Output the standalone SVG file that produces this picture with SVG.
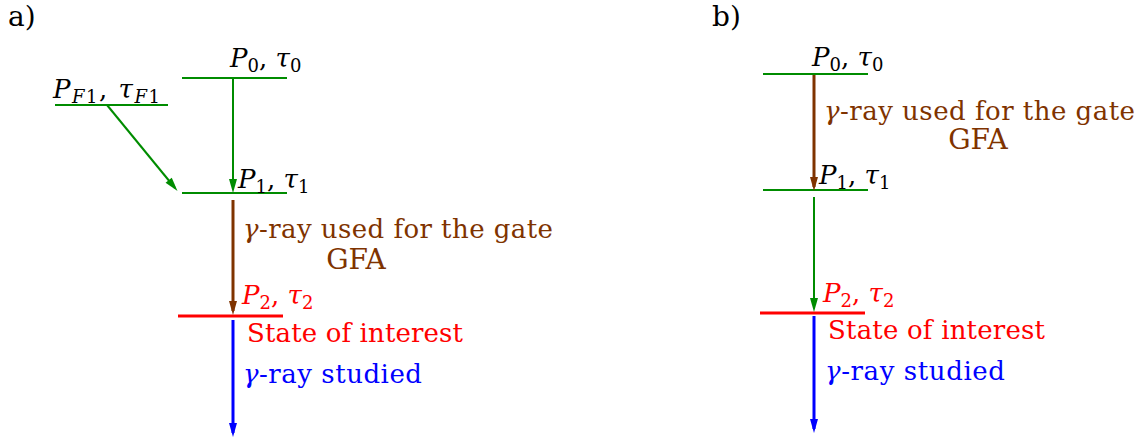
<svg xmlns="http://www.w3.org/2000/svg" width="1143" height="440" viewBox="0 0 1143 440">
<style>
text{font-family:"DejaVu Serif","Liberation Serif",serif;font-size:26px}
.it{font-style:italic}
.sub{font-size:18px}
.lab{font-size:28px}
.k{fill:#000}
.br{fill:#7f3300}
.rd{fill:#ff0000}
.bl{fill:#0000ff}
.lvg{stroke:#008c00;stroke-width:2.2;fill:none}
.lvr{stroke:#ff0000;stroke-width:3;fill:none}
.ag{stroke:#008c00;stroke-width:2;fill:none;marker-end:url(#mg)}
.ab{stroke:#7f3300;stroke-width:3;fill:none;marker-end:url(#mb)}
.au{stroke:#0000ff;stroke-width:3;fill:none;marker-end:url(#mu)}
</style>
<defs>
<marker id="mg" markerUnits="userSpaceOnUse" markerWidth="16" markerHeight="10" refX="10" refY="4" orient="auto" overflow="visible"><path d="M0,0 L14,4 L0,8 Z" fill="#008c00"/></marker>
<marker id="mb" markerUnits="userSpaceOnUse" markerWidth="16" markerHeight="10" refX="10" refY="4" orient="auto" overflow="visible"><path d="M0,0 L14,4 L0,8 Z" fill="#7f3300"/></marker>
<marker id="mu" markerUnits="userSpaceOnUse" markerWidth="16" markerHeight="10" refX="10" refY="4" orient="auto" overflow="visible"><path d="M0,0 L14,4 L0,8 Z" fill="#0000ff"/></marker>
</defs>

<text x="8" y="26" class="k lab">a)</text>
<text x="712" y="26" class="k lab">b)</text>

<!-- Panel a -->
<g id="a-P0">
<line x1="182" y1="78" x2="287" y2="78" class="lvg"/>
<text x="230" y="67" class="k"><tspan class="it">P</tspan><tspan class="sub" dy="5">0</tspan><tspan dy="-5">, </tspan><tspan class="it">τ</tspan><tspan class="sub" dy="5">0</tspan></text>
</g>
<g id="a-PF1">
<line x1="55" y1="105" x2="168" y2="105" class="lvg"/>
<text x="53" y="98" class="k" letter-spacing="1.5"><tspan class="it">P</tspan><tspan class="sub it" dy="5">F</tspan><tspan class="sub">1</tspan><tspan dy="-5">, </tspan><tspan class="it">τ</tspan><tspan class="sub it" dy="5">F</tspan><tspan class="sub">1</tspan></text>
</g>
<g id="a-P1">
<line x1="182" y1="193" x2="287" y2="193" class="lvg"/>
<text x="238" y="188" class="k"><tspan class="it">P</tspan><tspan class="sub" dy="5">1</tspan><tspan dy="-5">, </tspan><tspan class="it">τ</tspan><tspan class="sub" dy="5">1</tspan></text>
</g>
<g id="a-P2">
<line x1="178" y1="316" x2="283" y2="316" class="lvr"/>
<text x="242" y="304" class="rd"><tspan class="it">P</tspan><tspan class="sub" dy="5">2</tspan><tspan dy="-5">, </tspan><tspan class="it">τ</tspan><tspan class="sub" dy="5">2</tspan></text>
<text x="247" y="342" class="rd" textLength="216">State of interest</text>
</g>
<g id="a-labels">
<text x="243" y="238" class="br" textLength="310"><tspan class="it">γ</tspan>-ray used for the gate</text>
<text x="356" y="269" class="br lab" text-anchor="middle">GFA</text>
<text x="243" y="383" class="bl" textLength="179"><tspan class="it">γ</tspan>-ray studied</text>
</g>

<!-- Panel b -->
<g id="b-P0">
<line x1="763" y1="74" x2="868" y2="74" class="lvg"/>
<text x="812" y="66" class="k"><tspan class="it">P</tspan><tspan class="sub" dy="5">0</tspan><tspan dy="-5">, </tspan><tspan class="it">τ</tspan><tspan class="sub" dy="5">0</tspan></text>
</g>
<g id="b-P1">
<line x1="763" y1="190" x2="868" y2="190" class="lvg"/>
<text x="819" y="184" class="k"><tspan class="it">P</tspan><tspan class="sub" dy="5">1</tspan><tspan dy="-5">, </tspan><tspan class="it">τ</tspan><tspan class="sub" dy="5">1</tspan></text>
</g>
<g id="b-P2">
<line x1="760" y1="313" x2="865" y2="313" class="lvr"/>
<text x="823" y="302" class="rd"><tspan class="it">P</tspan><tspan class="sub" dy="5">2</tspan><tspan dy="-5">, </tspan><tspan class="it">τ</tspan><tspan class="sub" dy="5">2</tspan></text>
<text x="828" y="339" class="rd" textLength="217">State of interest</text>
</g>
<g id="b-labels">
<text x="824" y="120" class="br" textLength="311"><tspan class="it">γ</tspan>-ray used for the gate</text>
<text x="978" y="149" class="br lab" text-anchor="middle">GFA</text>
<text x="825" y="380" class="bl" textLength="180"><tspan class="it">γ</tspan>-ray studied</text>
</g>

<g id="connectors">
<line x1="233" y1="78" x2="233" y2="189" class="ag"/>
<line x1="107" y1="105" x2="175" y2="188" class="ag"/>
<line x1="233" y1="200" x2="233" y2="311" class="ab"/>
<line x1="233" y1="320" x2="233" y2="433" class="au"/>
<line x1="814" y1="75" x2="814" y2="187" class="ab"/>
<line x1="814" y1="197" x2="814" y2="308" class="ag"/>
<line x1="814" y1="316" x2="814" y2="429" class="au"/>
</g>
</svg>
